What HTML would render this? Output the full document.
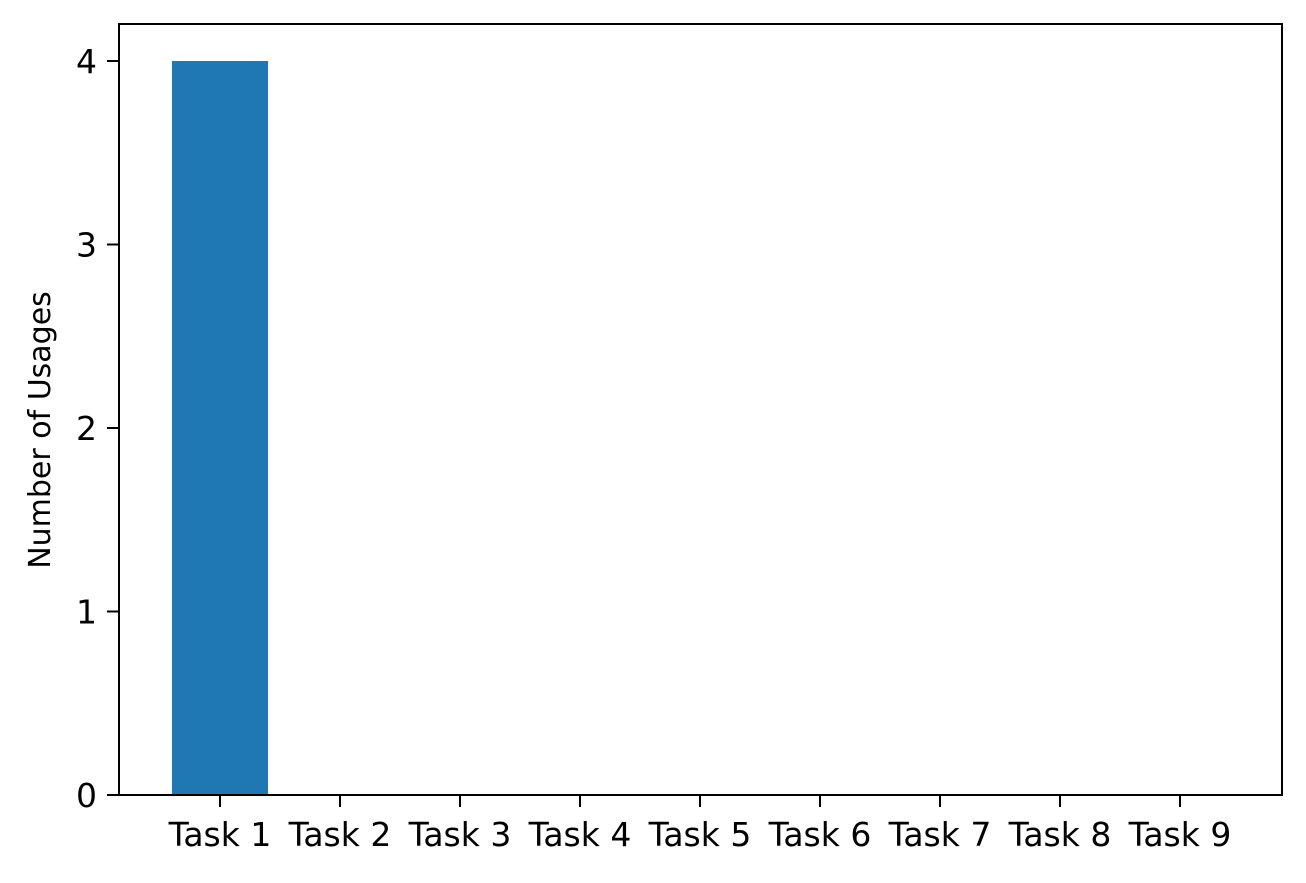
<!DOCTYPE html>
<html><head><meta charset="utf-8"><style>
html,body{margin:0;padding:0;background:#fff;}
svg text{font-family:"DejaVu Sans","Liberation Sans",sans-serif;fill:#000;}
</style></head><body>
<svg id="chart" width="1306" height="878" xmlns="http://www.w3.org/2000/svg">
<g id="bars"></g>
<g id="xticks"></g>
<g id="yticks"></g>
<rect x="119" y="24" width="1163" height="771" fill="none" stroke="#000" stroke-width="2"/>
<text x="0" y="0" font-size="30" text-anchor="middle" transform="translate(50,430) rotate(-90)">Number of Usages</text>
</svg>
<script>
const categories = ["Task 1","Task 2","Task 3","Task 4","Task 5","Task 6","Task 7","Task 8","Task 9"];
const usages = [4,0,0,0,0,0,0,0,0];
const yTickValues = [0,1,2,3,4];

const NS = "http://www.w3.org/2000/svg";
function xScale(i){ return 220 + 120*i; }
function yScale(v){ return 795 - 183.5*v; }
const bandW = 96;

const bars = document.getElementById('bars');
const xt = document.getElementById('xticks');
const yt = document.getElementById('yticks');

categories.forEach((c,i)=>{
  const r = document.createElementNS(NS,'rect');
  
  
  r.setAttribute('x', xScale(i)-bandW/2);
  r.setAttribute('y', yScale(usages[i]));
  r.setAttribute('width', bandW);
  r.setAttribute('height', yScale(0)-yScale(usages[i]));
  r.setAttribute('fill', '#1f77b4');
  bars.appendChild(r);

  const t = document.createElementNS(NS,'line');
  
  
  t.setAttribute('x1', xScale(i)); t.setAttribute('x2', xScale(i));
  t.setAttribute('y1', 795); t.setAttribute('y2', 807);
  t.setAttribute('stroke', '#000'); t.setAttribute('stroke-width', '2');
  xt.appendChild(t);

  const l = document.createElementNS(NS,'text');
  
  
  l.setAttribute('x', xScale(i)); l.setAttribute('y', 846);
  l.setAttribute('font-size', '33'); l.setAttribute('text-anchor', 'middle');
  l.textContent = c;
  xt.appendChild(l);
});

yTickValues.forEach(v=>{
  const t = document.createElementNS(NS,'line');
  
  
  t.setAttribute('x1', 107); t.setAttribute('x2', 119);
  t.setAttribute('y1', yScale(v)); t.setAttribute('y2', yScale(v));
  t.setAttribute('stroke', '#000'); t.setAttribute('stroke-width', '2');
  yt.appendChild(t);

  const l = document.createElementNS(NS,'text');
  
  
  l.setAttribute('x', 97); l.setAttribute('y', yScale(v)+12);
  l.setAttribute('font-size', '33'); l.setAttribute('text-anchor', 'end');
  l.textContent = v;
  yt.appendChild(l);
});
</script>
</body></html>
